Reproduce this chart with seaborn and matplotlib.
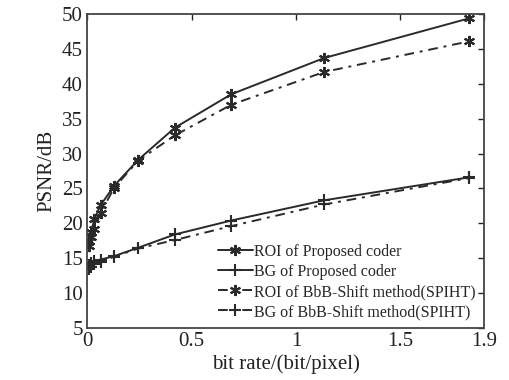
import matplotlib
matplotlib.use("Agg")
import matplotlib.pyplot as plt
import seaborn as sns
import pandas as pd

bit_rate = [0.01, 0.02, 0.035, 0.065, 0.13, 0.245, 0.42, 0.69, 1.135, 1.83]
roi_proposed = [17.5, 18.8, 20.6, 22.6, 25.4, 29.1, 33.7, 38.5, 43.7, 49.4]
bg_proposed = [14.0, 14.3, 14.6, 14.8, 15.3, 16.5, 18.4, 20.4, 23.3, 26.6]
roi_bbb = [16.8, 18.0, 19.2, 21.5, 25.1, 29.0, 32.6, 37.0, 41.7, 46.1]
bg_bbb = [13.5, 13.8, 14.1, 14.5, 15.2, 16.4, 17.6, 19.6, 22.7, 26.5]

labels = ["ROI of Proposed coder", "BG of Proposed coder",
          "ROI of BbB-Shift method(SPIHT)", "BG of BbB-Shift method(SPIHT)"]
series = [roi_proposed, bg_proposed, roi_bbb, bg_bbb]
xticks = [0, 0.5, 1, 1.5, 1.9]
xticklabels = ["0", "0.5", "1", "1.5", "1.9"]
yticks = list(range(5, 55, 5))

sns.set_style("white")
plt.rcParams['font.family'] = ['Liberation Serif', 'DejaVu Serif']

fig = plt.figure(figsize=(5.09, 3.80), dpi=100)
ax = fig.add_axes([0.171, 0.137, 0.780, 0.826])

linestyles = ["-", "-", (0, (5, 3, 1.5, 3)), (0, (5, 3, 1.5, 3))]
markers = [(6, 2, 0), "+", (6, 2, 0), "+"]
color = "#2a2a2a"
for lab, vals, ls, mk in zip(labels, series, linestyles, markers):
    df = pd.DataFrame({"x": bit_rate, "y": vals})
    sns.lineplot(data=df, x="x", y="y", ax=ax, label=lab, color=color,
                 linestyle=ls, marker=mk, markersize=8,
                 markeredgewidth=1.5, markeredgecolor=color,
                 markerfacecolor=color, linewidth=1.4, sort=False)

ax.set_xlim(0, 1.9)
ax.set_ylim(5, 50)
ax.set_xticks(xticks)
ax.set_xticklabels(xticklabels)
ax.set_yticks(yticks)
ax.tick_params(direction="in", length=4, width=1, top=True, right=True,
               labelsize=15, colors="#222222", pad=3)
for s in ax.spines.values():
    s.set_color("#444444")
    s.set_linewidth(1.3)
ax.set_xlabel("bit rate/(bit/pixel)", fontsize=15, color="#222222", labelpad=2)
ax.set_ylabel("PSNR/dB", fontsize=15, color="#222222", labelpad=4)
leg = ax.legend(loc="lower right", frameon=False, fontsize=11.5,
                handlelength=2.2, handletextpad=0.1, labelspacing=0.25,
                borderaxespad=0.1)
fig.savefig("out.png", dpi=100)
